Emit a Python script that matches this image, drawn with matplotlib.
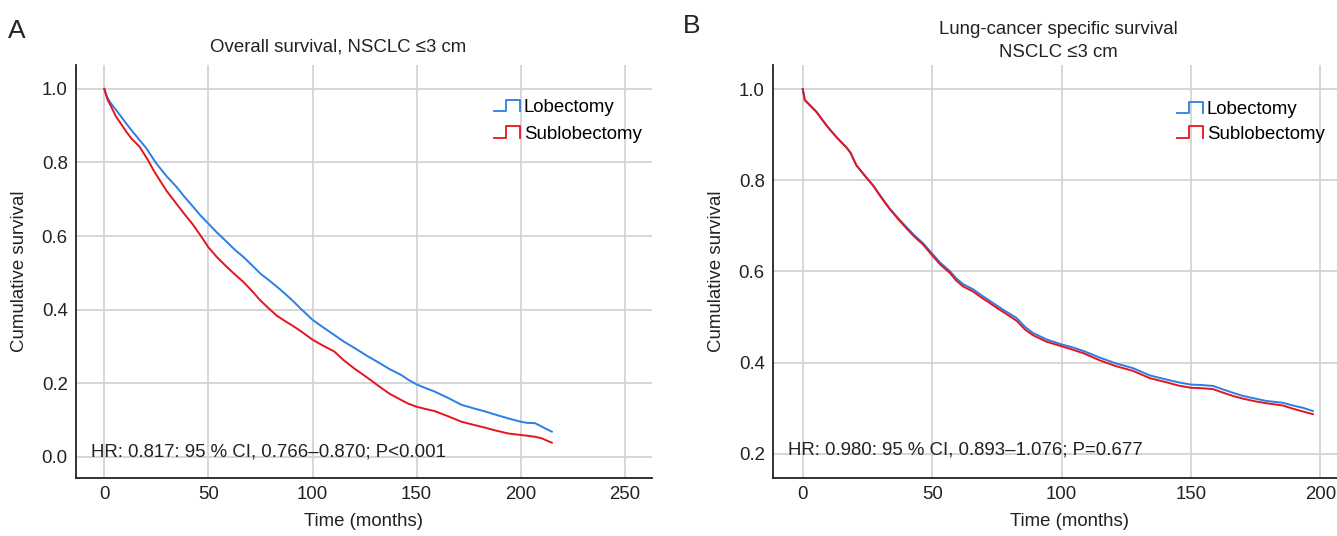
import matplotlib
matplotlib.use("Agg")
import matplotlib.pyplot as plt
from matplotlib.legend_handler import HandlerBase
from matplotlib.lines import Line2D

plt.rcParams['font.family'] = ['Liberation Sans', 'DejaVu Sans']

# ---------------- data ----------------
# Panel A: overall survival
a_lob_t = [0, 0.8, 1.6, 3, 5.6, 8, 10.5, 13, 16.9, 20, 25, 30, 34.6, 38, 42.7, 46, 49.9, 54, 58.8, 63,
           66.8, 71, 74.9, 79, 82.9, 87, 91, 94.4, 97.4, 100, 105, 110.4, 115, 120, 126.5, 132, 137, 142.6, 146, 149.8,
           154, 158.6, 165, 171.5, 177, 182.8, 188, 194, 200, 203, 206.9, 210, 212, 214.9]
a_lob_s = [1.0, 0.985, 0.975, 0.962, 0.943, 0.925, 0.906, 0.888, 0.861, 0.84, 0.797, 0.762, 0.734, 0.71, 0.679, 0.657, 0.634, 0.61, 0.584, 0.561,
           0.543, 0.52, 0.498, 0.480, 0.462, 0.442, 0.421, 0.402, 0.386, 0.372, 0.352, 0.331, 0.313, 0.296, 0.273, 0.255, 0.238, 0.222, 0.209, 0.197,
           0.187, 0.177, 0.16, 0.141, 0.132, 0.123, 0.114, 0.104, 0.095, 0.092, 0.091, 0.082, 0.076, 0.068]
a_sub_t = [0, 0.8, 1.6, 3, 5.6, 8, 10.5, 13, 16.9, 20.9, 23.5, 26.6, 30, 34.6, 38, 42.7, 46, 49.9, 54, 58.8,
           63, 66.8, 71, 74.9, 79, 82.9, 87, 91, 94.4, 100, 105, 110.4, 115, 120, 126.5, 132, 137, 142.6, 146, 149.8,
           154, 158.6, 165, 171.5, 177, 182.8, 188, 194, 200, 203, 206.9, 210, 212, 214.9]
a_sub_s = [1.0, 0.985, 0.97, 0.955, 0.925, 0.905, 0.884, 0.865, 0.843, 0.807, 0.78, 0.752, 0.722, 0.688, 0.663, 0.630, 0.603, 0.57, 0.543, 0.516,
           0.494, 0.475, 0.45, 0.425, 0.403, 0.383, 0.368, 0.354, 0.341, 0.318, 0.302, 0.286, 0.262, 0.24, 0.214, 0.191, 0.171, 0.154, 0.144, 0.136,
           0.13, 0.124, 0.11, 0.095, 0.087, 0.079, 0.071, 0.063, 0.059, 0.057, 0.054, 0.05, 0.045, 0.038]

# Panel B: lung-cancer specific survival
b_t = [0, 0.8, 2.7, 5.3, 7, 9.1, 11, 13, 15, 16.9, 18.5, 20.7, 24, 27.2, 30, 33.6, 37, 40, 43, 46.5,
       49.9, 53, 56.8, 59.3, 62, 65.8, 69, 72.2, 75, 78.6, 82.6, 86, 89, 94.2, 100, 104, 108.3, 114.8, 121.2, 127.6,
       134.1, 140.5, 145, 149.9, 154, 158.5, 162, 166.2, 170.1, 175, 179.1, 185.5, 189.4, 193.2, 197.1]
b_lob_s = [1.0, 0.976, 0.965, 0.95, 0.937, 0.921, 0.908, 0.895, 0.883, 0.872, 0.86, 0.833, 0.81, 0.789, 0.766, 0.738, 0.716, 0.698, 0.68, 0.662,
           0.64, 0.62, 0.601, 0.585, 0.572, 0.561, 0.548, 0.536, 0.525, 0.512, 0.498, 0.478, 0.465, 0.451, 0.440, 0.434, 0.426, 0.411, 0.398, 0.388,
           0.372, 0.363, 0.357, 0.352, 0.351, 0.349, 0.342, 0.334, 0.327, 0.321, 0.316, 0.312, 0.306, 0.301, 0.294]
b_sub_s = [1.0, 0.976, 0.965, 0.95, 0.937, 0.921, 0.908, 0.895, 0.883, 0.872, 0.86, 0.833, 0.81, 0.788, 0.765, 0.737, 0.714, 0.695, 0.677, 0.659,
           0.636, 0.616, 0.597, 0.58, 0.567, 0.556, 0.543, 0.531, 0.52, 0.507, 0.492, 0.472, 0.46, 0.446, 0.436, 0.429, 0.421, 0.405, 0.392, 0.382,
           0.366, 0.357, 0.35, 0.345, 0.344, 0.342, 0.335, 0.327, 0.321, 0.315, 0.311, 0.306, 0.299, 0.293, 0.287]

x_ticks_a = [0, 50, 100, 150, 200, 250]
y_ticks_a = [0.0, 0.2, 0.4, 0.6, 0.8, 1.0]
x_ticks_b = [0, 50, 100, 150, 200]
y_ticks_b = [0.2, 0.4, 0.6, 0.8, 1.0]
labels = ['Lobectomy', 'Sublobectomy']

BLUE = '#2a7ee6'
RED = '#e6141e'
GRID = '#d3d3d3'
TXT = '#222222'
FS = 13.4
W, H = 1337, 536


class StepHandler(HandlerBase):
    def create_artists(self, legend, orig_handle, xdescent, ydescent,
                       width, height, fontsize, trans):
        x0 = -xdescent
        y0 = -ydescent
        xs = [x0, x0 + 0.45 * width, x0 + 0.45 * width, x0 + width, x0 + width]
        ys = [y0 + 0.15 * height, y0 + 0.15 * height, y0 + 0.9 * height,
              y0 + 0.9 * height, y0 + 0.15 * height]
        ln = Line2D(xs, ys, color=orig_handle.get_color(), lw=1.3)
        ln.set_transform(trans)
        return [ln]


fig = plt.figure(figsize=(W / 100, H / 100), dpi=100)


def px_axes(l, r, t, b):
    return fig.add_axes([l / W, 1 - b / H, (r - l) / W, (b - t) / H])


def style(ax, xt, yt):
    ax.set_xticks(xt)
    ax.set_yticks(yt)
    ax.set_xticklabels([str(v) for v in xt])
    ax.set_yticklabels([f'{v:.1f}' for v in yt])
    ax.grid(True, color=GRID, lw=1.3)
    ax.set_axisbelow(True)
    for s in ['top', 'right']:
        ax.spines[s].set_visible(False)
    for s in ['left', 'bottom']:
        ax.spines[s].set_linewidth(1.3)
        ax.spines[s].set_color(TXT)
    ax.tick_params(length=0, labelsize=FS, colors=TXT)
    ax.tick_params(axis='y', pad=6)
    ax.tick_params(axis='x', pad=5.5)


# ---------------- Panel A ----------------
axA = px_axes(76, 652, 65, 478)
hA1, = axA.plot(a_lob_t, a_lob_s, color=BLUE, lw=1.4)
hA2, = axA.plot(a_sub_t, a_sub_s, color=RED, lw=1.4)
axA.set_xlim(-13.6, 263)
axA.set_ylim(-0.058, 1.065)
style(axA, x_ticks_a, y_ticks_a)
axA.set_ylabel('Cumulative survival', fontsize=FS, color=TXT)
axA.yaxis.set_label_coords((28 - 76) / 576, 0.5)
axA.set_xlabel('Time (months)', fontsize=FS, color=TXT)
axA.xaxis.set_label_coords(0.5, (478 - 513) / 413)
fig.legend([hA1, hA2], labels, loc='upper left',
           bbox_to_anchor=(494 / W, 1 - 98 / H), frameon=False,
           fontsize=FS, handlelength=1.4, handleheight=0.9, handletextpad=0.2,
           labelspacing=0.45, borderpad=0, borderaxespad=0,
           handler_map={Line2D: StepHandler()})
fig.text(91 / W, 1 - 452 / H, 'HR: 0.817: 95 % CI, 0.766\u20130.870; P<0.001',
         fontsize=FS, color=TXT, va='center', ha='left')
fig.text(338 / W, 1 - 47 / H, 'Overall survival, NSCLC \u22643 cm',
         fontsize=FS, color=TXT, va='center', ha='center')
fig.text(8 / W, 1 - 31 / H, 'A', fontsize=19, color=TXT, va='center', ha='left')

# ---------------- Panel B ----------------
axB = px_axes(773, 1367, 65, 478)
hB1, = axB.plot(b_t, b_lob_s, color=BLUE, lw=1.4)
hB2, = axB.plot(b_t, b_sub_s, color=RED, lw=1.4)
axB.set_xlim(-11.5, 218)
axB.set_ylim(0.147, 1.053)
style(axB, x_ticks_b, y_ticks_b)
axB.set_ylabel('Cumulative survival', fontsize=FS, color=TXT)
axB.yaxis.set_label_coords((725 - 773) / 594, 0.5)
axB.set_xlabel('Time (months)', fontsize=FS, color=TXT)
axB.xaxis.set_label_coords(0.5, (478 - 513) / 413)
fig.legend([hB1, hB2], labels, loc='upper left',
           bbox_to_anchor=(1177 / W, 1 - 100 / H), frameon=False,
           fontsize=FS, handlelength=1.4, handleheight=0.9, handletextpad=0.2,
           labelspacing=0.35, borderpad=0, borderaxespad=0,
           handler_map={Line2D: StepHandler()})
fig.text(788 / W, 1 - 450 / H, 'HR: 0.980: 95 % CI, 0.893\u20131.076; P=0.677',
         fontsize=FS, color=TXT, va='center', ha='left')
fig.text(1058 / W, 1 - 41 / H, 'Lung-cancer specific survival\nNSCLC \u22643 cm',
         fontsize=FS, color=TXT, va='center', ha='center', linespacing=1.4)
fig.text(683 / W, 1 - 26 / H, 'B', fontsize=19, color=TXT, va='center', ha='left')

fig.savefig('out.png', dpi=100)
